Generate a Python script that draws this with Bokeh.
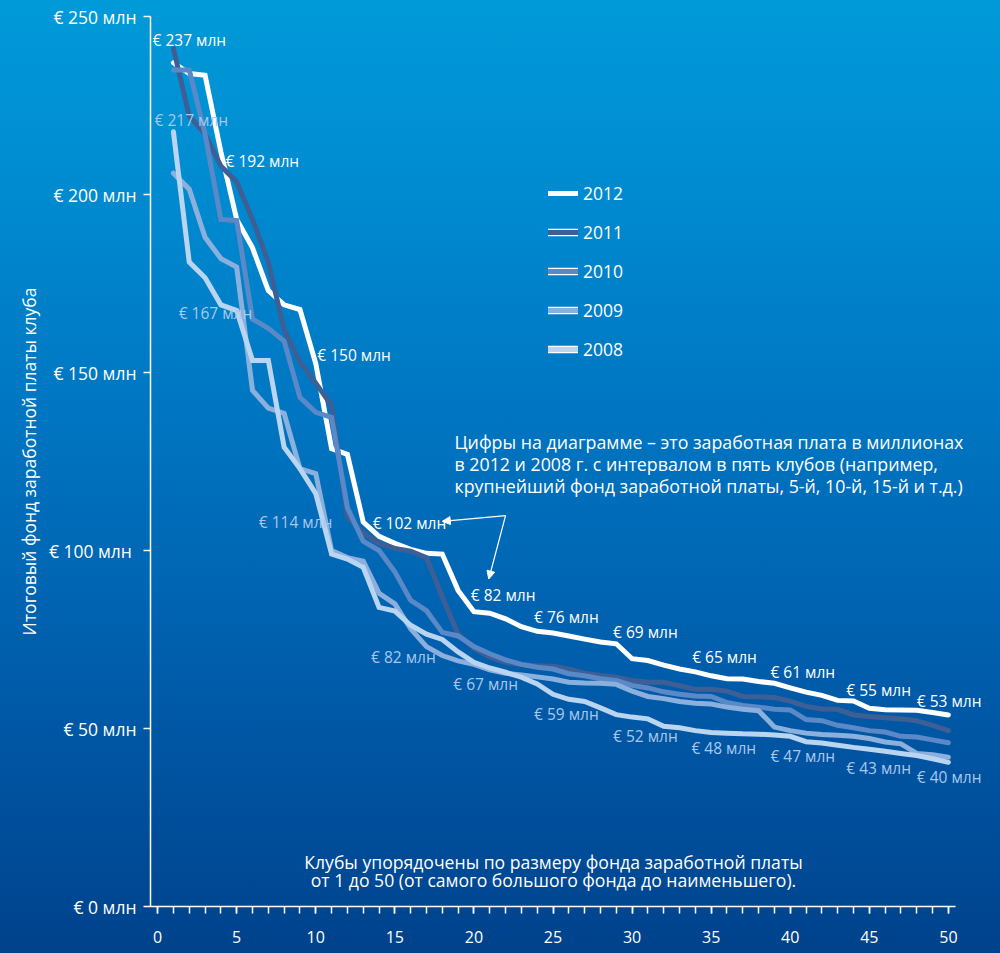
from bokeh.plotting import figure
from bokeh.models import (ColumnDataSource, LabelSet, Label, Arrow, NormalHead, Legend, LegendItem,
                          SingleIntervalTicker, FixedTicker, GlobalInlineStyleSheet, Range1d)
from bokeh.core.properties import value
from bokeh.embed import file_html
from bokeh.resources import INLINE

# ---------------- data ----------------
clubs = list(range(1, 51))

pay_2012 = [237, 234, 233.5, 212, 193, 185, 173, 169, 167.7, 152.5,
            128.6, 127, 108, 104, 102, 100.3, 99.2, 99, 88.8, 82.8,
            82.4, 80.8, 78.6, 77.3, 76.8, 76, 75.1, 74.3, 73.8, 69.6,
            69.1, 67.8, 66.7, 65.9, 64.8, 64, 63.9, 63.2, 62.7, 61.4,
            60.2, 59.3, 57.9, 57.7, 55.7, 55.3, 55.2, 55.1, 54.5, 53.8]

pay_2011 = [241, 222, 217, 208, 203.5, 193, 181, 162, 153, 147,
            140.7, 109.4, 105, 102, 100.6, 99.8, 98, 87, 76.5, 72.5,
            70.1, 68.6, 68, 67.6, 67.5, 66.7, 65.5, 64.9, 64.4, 63.5,
            63, 63, 62, 61, 61, 60.5, 59, 58.9, 58.7, 57.7,
            56.2, 55.5, 55.4, 53.8, 53.4, 53, 52.7, 52.2, 50.9, 49.4]

pay_2010 = [235, 235, 217, 193, 192.7, 165, 162.4, 158.8, 143, 138.8,
            137.4, 112, 102.6, 100, 94, 86, 83.1, 77, 76, 73,
            71, 69.3, 68, 67.2, 66.7, 65.4, 64.8, 64, 63.5, 62.1,
            61.4, 60.3, 59.6, 59.1, 59, 57.3, 56.5, 56, 55.4, 55.2,
            52.5, 52.2, 50.9, 50.2, 49.4, 49, 47.8, 47.6, 46.8, 46]

pay_2009 = [206, 201.5, 188, 182, 179.6, 145, 140, 138.5, 123, 121.6,
            100, 98, 97, 88, 85, 78, 73, 70.5, 69, 68,
            66.5, 65.5, 65, 64.5, 63.9, 63, 62.8, 62.7, 62.4, 60.5,
            59, 58.4, 57.6, 57.1, 56.9, 56, 55.4, 55, 50.4, 49.4,
            48.7, 48.3, 48.1, 47.8, 47.2, 46.2, 45.7, 43, 42.6, 41.9]

pay_2008 = [217.6, 181, 176.6, 169, 167.4, 153.4, 153.4, 129, 123, 116,
            99, 97.6, 95.3, 84, 83, 79, 76.5, 75, 71.5, 68.6,
            67, 65.8, 64.4, 62.5, 59.6, 58.2, 57.6, 55.8, 53.9, 53.2,
            52.7, 50.6, 50.2, 49.4, 48.9, 48.7, 48.5, 48.4, 48.2, 47.8,
            46.3, 45.9, 45.3, 44.7, 44.2, 43.6, 43, 42.4, 41.5, 40.5]

years = ["2012", "2011", "2010", "2009", "2008"]
series = {"2012": pay_2012, "2011": pay_2011, "2010": pay_2010,
          "2009": pay_2009, "2008": pay_2008}

# labelled values (every fifth club) for 2012 and 2008
label_vals_2012 = [237, 192, 150, 102, 82, 76, 69, 65, 61, 55, 53]
label_vals_2008 = [217, 167, 114, 82, 67, 59, 52, 48, 47, 43, 40]

y_ticks = [0, 50, 100, 150, 200, 250]
y_tick_text = ["€ 0 млн", "€ 50 млн", "€ 100  млн", "€ 150 млн", "€ 200 млн", "€ 250 млн"]

note_lines = ["Цифры на диаграмме – это заработная плата в миллионах",
              "в 2012 и 2008 г. с интервалом в пять клубов (например,",
              "крупнейший фонд заработной платы, 5-й, 10-й, 15-й и т.д.)"]
x_note_lines = ["Клубы упорядочены по размеру фонда заработной платы",
                "от 1 до 50 (от самого большого фонда до наименьшего)."]
y_title = "Итоговый фонд заработной платы клуба"

# ---------------- positions / styles ----------------
lab12_x = [-0.32, 4.3, 10.1, 13.6, 19.8, 23.8, 28.8, 33.8, 38.75, 43.55, 48.0]
lab12_y = [243.5, 209.3, 155.0, 107.6, 87.6, 81.2, 77.0, 70.0, 66.0, 60.7, 57.6]
lab08_x = [-0.19, 1.33, 6.4, 13.5, 18.7, 23.8, 28.8, 33.75, 38.75, 43.55, 48.0]
lab08_y = [220.8, 166.6, 107.9, 70.2, 62.4, 54.2, 47.8, 44.4, 42.4, 38.8, 36.5]

colors = {"2012": "#ffffff", "2011": "#3e5f96", "2010": "#5b88c6",
          "2009": "#8cb0de", "2008": "#bad5f0"}
FONT = "Open Sans"
GRAD = ("linear-gradient(to bottom, #019ad9 0%, #0089cf 22%, #0074c0 45%, "
        "#0062b0 65%, #004f9c 85%, #00428c 100%)")

X0 = -0.45
PX_PER_UNIT = 805 / 50.9
FRAME_W = 845

p = figure(frame_width=FRAME_W, frame_height=890,
           x_range=Range1d(X0, X0 + FRAME_W / PX_PER_UNIT), y_range=Range1d(0, 250),
           output_backend="svg", toolbar_location=None,
           min_border_left=150, min_border_right=0,
           min_border_top=16, min_border_bottom=47)
p.background_fill_alpha = 0
p.border_fill_alpha = 0
p.outline_line_color = None
p.grid.visible = False
p.styles = {"background": GRAD}
p.stylesheets = [GlobalInlineStyleSheet(
    css="html{background:" + GRAD + " no-repeat; min-height:100%;} body{background:transparent;}")]

# axes
for ax in (p.xaxis[0], p.yaxis[0]):
    ax.axis_line_color = "white"
    ax.axis_line_width = 1.5
    ax.major_tick_line_color = "white"
    ax.major_tick_line_width = 1.5
    ax.major_tick_in = 0
    ax.major_tick_out = 7
    ax.major_label_text_color = "white"
    ax.major_label_text_font = FONT
    ax.major_label_text_font_size = "16px"

p.xaxis.bounds = (X0, 50.45)
p.xaxis.ticker = SingleIntervalTicker(interval=5, num_minor_ticks=5)
p.xaxis.minor_tick_line_color = "white"
p.xaxis.minor_tick_line_width = 1.5
p.xaxis.minor_tick_in = 0
p.xaxis.minor_tick_out = 7
p.xaxis.major_label_standoff = 17

p.yaxis.ticker = FixedTicker(ticks=y_ticks)
p.yaxis.major_label_overrides = {t: s for t, s in zip(y_ticks, y_tick_text)}
p.yaxis.major_label_text_font_size = "17.5px"
p.yaxis.minor_tick_line_color = None
p.yaxis.major_label_standoff = 7
p.yaxis.axis_label = y_title
p.yaxis.axis_label_text_color = "white"
p.yaxis.axis_label_text_font = FONT
p.yaxis.axis_label_text_font_style = "normal"
p.yaxis.axis_label_text_font_size = "17.5px"
p.yaxis.axis_label_standoff = 5

# lines (2012 lowest, 2008 on top)
renderers = {}
for yr in years:
    src = ColumnDataSource(dict(x=clubs, y=series[yr]))
    renderers[yr] = p.line("x", "y", source=src, line_color=colors[yr], line_width=5,
                           line_join="miter", line_cap="round")

# legend with white outline
nan = float("nan")
items = []
for yr in years:
    rs = []
    if yr != "2012":
        rs.append(p.line(x=[nan], y=[nan], line_color="white", line_width=7.5, line_cap="round"))
    rs.append(renderers[yr])
    items.append(LegendItem(label=yr, renderers=rs))
legend = Legend(items=items, location=(398, 545), glyph_width=30, glyph_height=20,
                label_height=20, spacing=15, padding=0, margin=0, label_standoff=5,
                border_line_color=None, background_fill_alpha=0,
                label_text_color="white", label_text_font=FONT, label_text_font_size="17.5px")
p.add_layout(legend, "center")

# value labels
src12 = ColumnDataSource(dict(x=lab12_x, y=lab12_y, t=[f"€ {v} млн" for v in label_vals_2012]))
src08 = ColumnDataSource(dict(x=lab08_x, y=lab08_y, t=[f"€ {v} млн" for v in label_vals_2008]))
p.add_layout(LabelSet(x="x", y="y", text="t", source=src12, text_color="white",
                      text_font=value(FONT), text_font_size="15.5px",
                      text_align="left", text_baseline="middle"))
p.add_layout(LabelSet(x="x", y="y", text="t", source=src08, text_color="#abc8ec",
                      text_font=value(FONT), text_font_size="15.5px",
                      text_align="left", text_baseline="middle"))

# note texts
for i, line in enumerate(note_lines):
    p.add_layout(Label(x=18.77, y=130.6 - 6.3 * i, text=line, text_color="white",
                       text_font=FONT, text_font_size="17.8px",
                       text_align="left", text_baseline="middle"))
for i, line in enumerate(x_note_lines):
    p.add_layout(Label(x=25.03, y=12.64 - 5.2 * i, text=line, text_color="white",
                       text_font=FONT, text_font_size="17.6px",
                       text_align="center", text_baseline="middle"))

# arrows
for xe, ye in [(18.0, 108.2), (20.94, 92.0)]:
    p.add_layout(Arrow(x_start=22.0, y_start=109.8, x_end=xe, y_end=ye,
                       line_color="white", line_width=1.2,
                       end=NormalHead(size=8, fill_color="white", line_color="white")))

open("out.html", "w").write(file_html(p, INLINE))
